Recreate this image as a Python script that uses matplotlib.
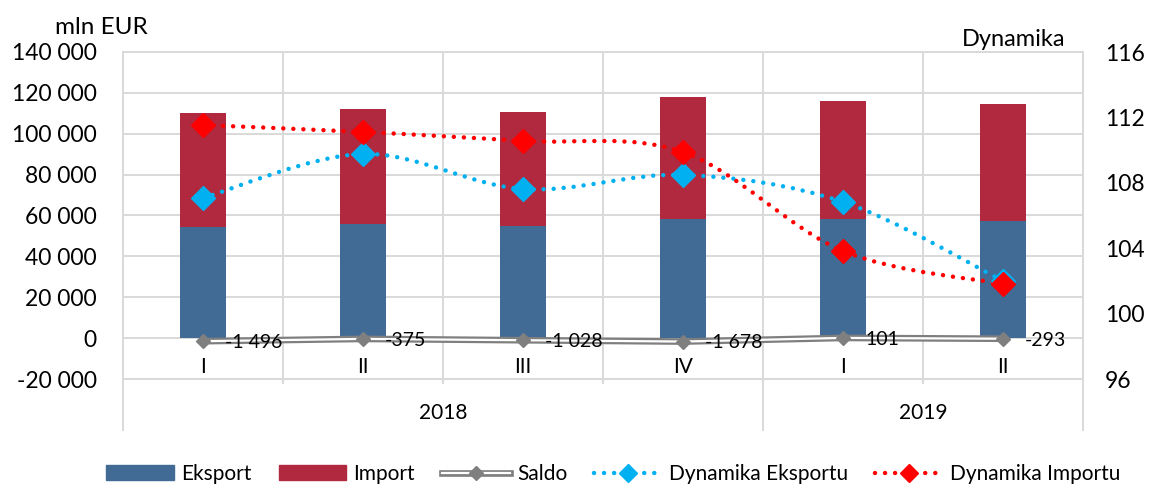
import numpy as np
import matplotlib
matplotlib.use("AGG")
import matplotlib.pyplot as plt
import matplotlib.transforms as mtransforms
from matplotlib.path import Path
from matplotlib.patches import PathPatch, Patch
from matplotlib.lines import Line2D
from matplotlib.legend_handler import HandlerTuple

plt.rcParams['font.family'] = ['Lato', 'DejaVu Sans']

# data (mln EUR, quarterly)
quarters = ["I", "II", "III", "IV", "I", "II"]
years = ["2018", "2019"]
year_first = [0, 4]
year_last = [3, 5]
eksport = [54400, 55860, 54890, 58210, 58050, 57100]
import_ = [55896, 56235, 55918, 59888, 57949, 57393]
saldo = [-1496, -375, -1028, -1678, 101, -293]
dyn_eksport = [107.07, 109.76, 107.62, 108.48, 106.83, 102.0]
dyn_import = [111.53, 111.11, 110.56, 109.88, 103.83, 101.81]

C_EXP = "#416A95"
C_IMP = "#B0293F"
C_GRID = "#D9D9D9"
C_SALDO = "#7F7F7F"
C_DEXP = "#00B0F0"
C_DIMP = "#FF0000"
DOTS = (0, (0.01, 2.25))


def smooth_path(xs, ys):
    # catmull-rom style bezier, like excel's smoothed line
    pts = np.column_stack([xs, ys]).astype(float)
    n = len(pts)
    verts = [pts[0]]
    codes = [Path.MOVETO]
    for i in range(n - 1):
        p0 = pts[max(i - 1, 0)]
        p1 = pts[i]
        p2 = pts[i + 1]
        p3 = pts[min(i + 2, n - 1)]
        verts += [p1 + (p2 - p0) / 6, p2 - (p3 - p1) / 6, p2]
        codes += [Path.CURVE4] * 3
    return Path(verts, codes)


fig = plt.figure(figsize=(11.55, 4.86), dpi=100)
ax = fig.add_axes([123 / 1155, 1 - 379 / 486, 960 / 1155, 327 / 486])
x = np.arange(len(quarters))

ax.bar(x, eksport, width=0.29, color=C_EXP, zorder=2)
ax.bar(x, import_, width=0.29, bottom=eksport, color=C_IMP, zorder=2)

ax.plot(x, saldo, color=C_SALDO, lw=4.8, solid_capstyle='butt', zorder=3)
ax.plot(x, saldo, color="white", lw=1.6, solid_capstyle='butt', zorder=3)
ax.plot(x, saldo, linestyle='none', marker='D', ms=7.5, color=C_SALDO, zorder=4)
for xi, v in zip(x, saldo):
    ax.annotate("{:,}".format(v).replace(",", " "), (xi, v), xytext=(16, -1),
                textcoords='offset points', ha='left', va='center', fontsize=14, zorder=5)

ax.set_xlim(-0.5, 5.5)
ax.set_ylim(-20000, 140000)
ax.set_yticks(range(-20000, 140001, 20000))
ax.set_yticklabels(["{:,}".format(v).replace(",", " ") for v in range(-20000, 140001, 20000)])
ax.set_xticks([])
ax.set_xticks(np.arange(-0.5, 5.6, 1), minor=True)
ax.grid(True, which='minor', axis='x', color=C_GRID, lw=1.4)
ax.grid(True, which='major', axis='y', color=C_GRID, lw=1.4)
ax.set_axisbelow(True)
ax.tick_params(axis='y', length=0, pad=19, labelsize=16.5)
ax.tick_params(axis='x', which='both', length=0)
for s in ax.spines.values():
    s.set_color(C_GRID)
    s.set_linewidth(1.4)

# category axis labels
trans = mtransforms.blended_transform_factory(ax.transData, ax.transAxes)
for xi, q in zip(x, quarters):
    ax.text(xi, 0.037, q, transform=trans, ha='center', va='center', fontsize=15)
for y, a, b in zip(years, year_first, year_last):
    ax.text((a + b) / 2, -0.104, y, transform=trans, ha='center', va='center', fontsize=15)
for b in np.arange(-0.5, 5.6, 1):
    low = -0.156 if b in (-0.5, 3.5, 5.5) else -0.012
    ax.plot([b, b], [0, low], transform=trans, color=C_GRID, lw=1.4, clip_on=False)

ax2 = ax.twinx()
ax2.set_ylim(96, 116)
ax2.set_yticks(range(96, 117, 4))
ax2.tick_params(axis='y', length=0, pad=16, labelsize=16.5)
for s in ax2.spines.values():
    s.set_visible(False)

for vals, col in [(dyn_eksport, C_DEXP), (dyn_import, C_DIMP)]:
    ax2.add_patch(PathPatch(smooth_path(x, vals), fill=False, edgecolor=col, lw=3.2,
                            linestyle=DOTS, capstyle='round', zorder=3))
    ax2.plot(x, vals, linestyle='none', marker='D', ms=12, color=col, zorder=4)

fig.text(55 / 1155, 1 - 28 / 486, "mln EUR", ha='left', va='center', fontsize=17.5)
fig.text(962 / 1155, 1 - 40 / 486, "Dynamika", ha='left', va='center', fontsize=17)

handles = [
    Patch(color=C_EXP),
    Patch(color=C_IMP),
    (Line2D([], [], color=C_SALDO, lw=4.8), Line2D([], [], color="white", lw=1.6),
     Line2D([], [], color=C_SALDO, ls='none', marker='D', ms=7.5)),
    Line2D([], [], color=C_DEXP, lw=3.2, ls=DOTS, dash_capstyle='round', marker='D', ms=9),
    Line2D([], [], color=C_DIMP, lw=3.2, ls=DOTS, dash_capstyle='round', marker='D', ms=9),
]
labels = ["Eksport", "Import", "Saldo", "Dynamika Eksportu", "Dynamika Importu"]
fig.legend(handles, labels, loc='center', bbox_to_anchor=(0.531, 1 - 474 / 486), ncol=5,
           frameon=False, fontsize=15, handlelength=3.26, handletextpad=0.33,
           columnspacing=1.3, handler_map={tuple: HandlerTuple(ndivide=1)})

fig.savefig("out.png", dpi=100)
